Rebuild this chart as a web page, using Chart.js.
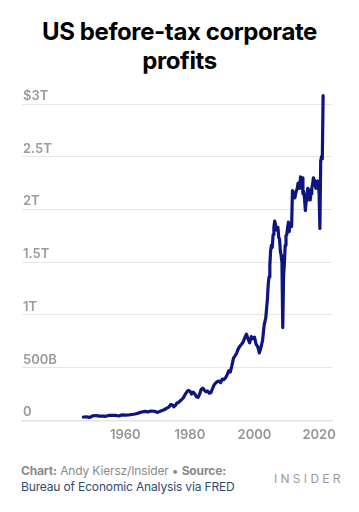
<!DOCTYPE html>
<html>
<head>
<meta charset="utf-8">
<script src="https://cdn.jsdelivr.net/npm/chart.js@4/dist/chart.umd.min.js"></script>
<style>
  html, body { margin: 0; padding: 0; background: #fff; }
  body { width: 359px; height: 512px; position: relative; overflow: hidden; font-family: Inter, "Noto Sans", sans-serif; }
  #title { position: absolute; top: 17px; left: 0; width: 359px; text-align: center; font-weight: 700; font-size: 24px; line-height: 29px; color: #000; letter-spacing: -0.4px; }
  #wrap { position: absolute; left: 0; top: 80px; width: 359px; height: 370px; }
  #foot { position: absolute; left: 21px; top: 463px; font-size: 12px; line-height: 16px; color: #8a8a8a; letter-spacing: -0.15px; }
  #foot b { font-weight: 700; }
  #foot .src { color: #2f4b6e; }
  #brand { position: absolute; left: 274px; top: 471px; font-size: 12px; letter-spacing: 3.3px; color: #9a9a9a; }
</style>
</head>
<body>
<div id="title">US before-tax corporate<br>profits</div>
<div id="wrap"><canvas id="c"></canvas></div>
<div id="foot"><b>Chart:</b> Andy Kiersz/Insider • <b>Source:</b><br><span class="src">Bureau of Economic Analysis via FRED</span></div>
<div id="brand">INSIDER</div>
<script>
// Dates (decimal years) and profits (billions of US dollars, SAAR)
const dates = [
  1947, 1948, 1949, 1950, 1951, 1952, 1953, 1954, 1955, 1956, 1957, 1958, 1959,
  1960, 1961, 1962, 1963, 1964, 1965, 1966, 1967, 1968, 1969, 1970, 1971, 1972,
  1973.0, 1973.5, 1974.0, 1974.5, 1975.0, 1975.5, 1976.0, 1976.5, 1977.0, 1977.5,
  1978.0, 1978.5, 1979.0, 1979.5, 1980.0, 1980.5, 1981.0, 1981.5, 1982.0, 1982.5,
  1983.0, 1983.5, 1984.0, 1984.5, 1985.0, 1985.5, 1986.0, 1986.5, 1987.0, 1987.5,
  1988.0, 1988.5, 1989.0, 1989.5, 1990.0, 1990.5, 1991.0, 1991.5, 1992.0, 1992.5,
  1993.0, 1993.5, 1994.0, 1994.5, 1995.0, 1995.5, 1996.0, 1996.5, 1997.0, 1997.5,
  1998.0, 1998.5, 1999.0, 1999.5, 2000.0, 2000.5, 2001.0, 2001.5, 2002.0, 2002.5,
  2003.0, 2003.5,
  2004.0, 2004.25, 2004.5, 2004.75, 2005.0, 2005.25, 2005.5, 2005.75,
  2006.0, 2006.25, 2006.5, 2006.75, 2007.0, 2007.25, 2007.5, 2007.75,
  2008.0, 2008.25, 2008.5, 2008.75, 2009.0, 2009.25, 2009.5, 2009.75,
  2010.0, 2010.25, 2010.5, 2010.75, 2011.0, 2011.25, 2011.5, 2011.75,
  2012.0, 2012.25, 2012.5, 2012.75, 2013.0, 2013.25, 2013.5, 2013.75,
  2014.0, 2014.25, 2014.5, 2014.75, 2015.0, 2015.25, 2015.5, 2015.75,
  2016.0, 2016.25, 2016.5, 2016.75, 2017.0, 2017.25, 2017.5, 2017.75,
  2018.0, 2018.25, 2018.5, 2018.75, 2019.0, 2019.25, 2019.5, 2019.75,
  2020.0, 2020.25, 2020.5, 2020.75, 2021.0, 2021.25
];
const profits = [
  32, 34, 28, 44, 45, 40, 41, 39, 49, 48, 47, 42, 53,
  50, 51, 56, 61, 69, 79, 85, 81, 89, 87, 76, 89, 101,
  118, 126, 150, 148, 128, 142, 165, 170, 186, 200,
  215, 245, 268, 285, 278, 250, 268, 252, 225, 218,
  248, 295, 305, 285, 272, 278, 258, 262, 302, 338,
  355, 368, 372, 358, 392, 386, 402, 430, 470, 458,
  520, 590, 612, 640, 680, 705, 722, 745, 785, 818,
  772, 735, 795, 775, 790, 722, 700, 640, 690, 760,
  905, 975,
  1150, 1290, 1360, 1470, 1610, 1660, 1640, 1760,
  1830, 1890, 1860, 1805, 1815, 1830, 1735, 1720,
  1610, 1560, 1500, 880, 1360, 1490, 1660, 1750,
  1760, 1830, 1880, 1790, 1860, 1870, 1840, 2180,
  2160, 2130, 2110, 2150, 2180, 2200, 2250, 2220,
  2200, 2310, 2260, 2300, 2150, 2170, 2100, 1990,
  2080, 2120, 2200, 2190, 2140, 2090, 2150, 2200,
  2240, 2300, 2280, 2250, 2200, 2260, 2270, 2250,
  2150, 1820, 2460, 2500, 2480, 3080
];
const xTickYears = [1960, 1980, 2000, 2020];
const yTickValues = [0, 500, 1000, 1500, 2000, 2500, 3000];
const yTickLabels = ['0', '500B', '1T', '1.5T', '2T', '2.5T', '$3T'];

const points = dates.map((d, i) => ({ x: d, y: profits[i] }));

new Chart(document.getElementById('c'), {
  type: 'line',
  data: {
    datasets: [{
      data: points,
      borderColor: '#0e1580',
      borderWidth: 3.2,
      pointRadius: 0,
      tension: 0,
      fill: false,
      clip: false,
      borderJoinStyle: 'round',
      borderCapStyle: 'round'
    }]
  },
  options: {
    responsive: true,
    maintainAspectRatio: false,
    animation: false,
    events: [],
    layout: { padding: { left: 20, right: 27, top: 24, bottom: 0 } },
    plugins: { legend: { display: false }, tooltip: { enabled: false }, title: { display: false } },
    scales: {
      x: {
        type: 'linear',
        min: 1928,
        max: 2024,
        afterBuildTicks: (s) => { s.ticks = xTickYears.map(v => ({ value: v })); },
        grid: { display: false, drawTicks: false },
        border: { display: true, color: '#e3e3e3', width: 1.5 },
        ticks: {
          padding: 7,
          color: '#959595',
          font: { family: 'Inter, "Noto Sans", sans-serif', size: 13, weight: '600' },
          autoSkip: false,
          maxRotation: 0,
          callback: (v) => String(v)
        }
      },
      y: {
        type: 'linear',
        min: 0,
        max: 3000,
        afterBuildTicks: (s) => { s.ticks = yTickValues.map(v => ({ value: v })); },
        grid: { color: '#e6e6e6', lineWidth: 1, drawTicks: false },
        border: { display: false },
        ticks: {
          mirror: true,
          padding: 1,
          labelOffset: -8,
          color: '#9a9a9a',
          font: { family: 'Inter, "Noto Sans", sans-serif', size: 13, weight: '600' },
          callback: (v) => yTickLabels[yTickValues.indexOf(v)]
        }
      }
    }
  }
});
</script>
</body>
</html>
